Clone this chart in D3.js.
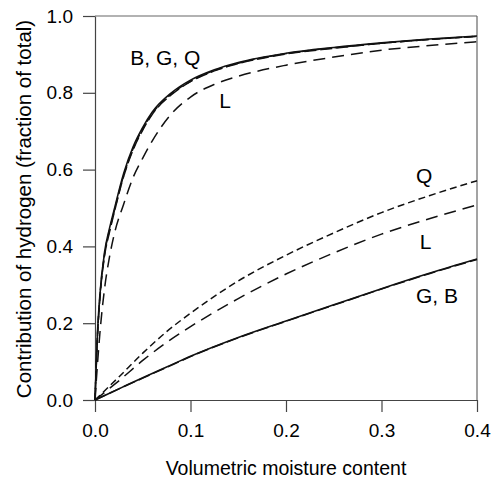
<!DOCTYPE html>
<html>
<head>
<meta charset="utf-8">
<script src="https://cdn.jsdelivr.net/npm/d3@7"></script>
<style>
  body { margin: 0; background: #fff; }
  text { font-family: "Liberation Sans", Arial, sans-serif; fill: #000; }
</style>
</head>
<body>
<div id="chart"></div>
<script>
// moisture values for the steep (high-energy) curves
var thetaHi = [0, 0.0025, 0.005, 0.01, 0.015, 0.02, 0.03, 0.04, 0.05, 0.06, 0.08, 0.1, 0.125, 0.15, 0.2, 0.25, 0.3, 0.35, 0.4];
var hiB = [0, 0.17, 0.27, 0.385, 0.445, 0.495, 0.59, 0.66, 0.71, 0.75, 0.80, 0.833, 0.860, 0.879, 0.903, 0.918, 0.930, 0.940, 0.948];
var hiG = [0, 0.16, 0.26, 0.375, 0.435, 0.487, 0.582, 0.652, 0.703, 0.744, 0.795, 0.829, 0.857, 0.876, 0.901, 0.916, 0.929, 0.939, 0.947];
var hiQ = [0, 0.165, 0.265, 0.38, 0.44, 0.49, 0.585, 0.655, 0.706, 0.746, 0.797, 0.830, 0.858, 0.877, 0.902, 0.917, 0.929, 0.939, 0.947];
var hiL = [0, 0.09, 0.17, 0.29, 0.37, 0.43, 0.51, 0.58, 0.63, 0.675, 0.745, 0.789, 0.822, 0.843, 0.872, 0.893, 0.911, 0.923, 0.933];

// moisture values for the low curves
var thetaLo = [0, 0.025, 0.05, 0.075, 0.1, 0.15, 0.2, 0.25, 0.3, 0.35, 0.4];
var loQ = [0, 0.06, 0.122, 0.178, 0.226, 0.31, 0.377, 0.435, 0.488, 0.532, 0.571];
var loL = [0, 0.05, 0.103, 0.15, 0.191, 0.264, 0.328, 0.383, 0.432, 0.472, 0.508];
var loG = [0, 0.029, 0.057, 0.085, 0.113, 0.162, 0.205, 0.247, 0.289, 0.329, 0.366];
var loB = [0, 0.029, 0.058, 0.086, 0.114, 0.163, 0.206, 0.248, 0.290, 0.330, 0.367];

var xTicks = [0, 0.1, 0.2, 0.3, 0.4];
var yTicks = [0, 0.2, 0.4, 0.6, 0.8, 1.0];

var labels = [
  { text: "B, G, Q", x: 0.037, y: 0.873 },
  { text: "L", x: 0.130, y: 0.76 },
  { text: "Q", x: 0.336, y: 0.565 },
  { text: "L", x: 0.340, y: 0.392 },
  { text: "G, B", x: 0.336, y: 0.252 }
];

var w = 492, h = 483;
var margin = { top: 16, right: 15, bottom: 83, left: 95 };
var iw = w - margin.left - margin.right;
var ih = h - margin.top - margin.bottom;

var svg = d3.select("#chart").append("svg")
    .attr("width", w)
    .attr("height", h);

var g = svg.append("g")
    .attr("transform", "translate(" + margin.left + "," + margin.top + ")");

var x = d3.scaleLinear().domain([0, 0.4]).range([0, iw]);
var y = d3.scaleLinear().domain([0, 1]).range([ih, 0]);

// frame on top and right
g.append("line").attr("x1", 0).attr("x2", iw).attr("y1", 0).attr("y2", 0)
    .attr("stroke", "#666").attr("stroke-width", 1.2);
g.append("line").attr("x1", iw).attr("x2", iw).attr("y1", 0).attr("y2", ih)
    .attr("stroke", "#666").attr("stroke-width", 1.2);

var xAxis = g.append("g")
    .attr("transform", "translate(0," + ih + ")")
    .call(d3.axisBottom(x).tickValues(xTicks).tickFormat(d3.format(".1f")).tickSizeInner(12).tickSizeOuter(0).tickPadding(12));
var yAxis = g.append("g")
    .call(d3.axisLeft(y).tickValues(yTicks).tickFormat(d3.format(".1f")).tickSizeInner(12).tickSizeOuter(0).tickPadding(10));

[xAxis, yAxis].forEach(function (a) {
    a.selectAll("path, line").attr("stroke", "#444").attr("stroke-width", 1.2);
    a.selectAll("text").style("font-size", "19px").attr("fill", "#000")
        .style("font-family", "'Liberation Sans', Arial, sans-serif");
});

var line = d3.line()
    .x(function (d) { return x(d[0]); })
    .y(function (d) { return y(d[1]); })
    .curve(d3.curveMonotoneX);

function zip(xs, ys) {
    return xs.map(function (v, i) { return [v, ys[i]]; });
}

var series = [
    { data: zip(thetaHi, hiL), dash: "12,7", width: 1.5 },
    { data: zip(thetaHi, hiQ), dash: "7,4", width: 1.5 },
    { data: zip(thetaHi, hiG), dash: "12,4", width: 1.5 },
    { data: zip(thetaHi, hiB), dash: null, width: 1.6 },
    { data: zip(thetaLo, loQ), dash: "7,4", width: 1.5 },
    { data: zip(thetaLo, loL), dash: "12,7", width: 1.5 },
    { data: zip(thetaLo, loG), dash: "12,4", width: 1.5 },
    { data: zip(thetaLo, loB), dash: null, width: 1.6 }
];

g.selectAll("path.curve")
    .data(series)
    .enter()
    .append("path")
    .attr("class", "curve")
    .attr("fill", "none")
    .attr("stroke", "#111")
    .attr("stroke-width", function (d) { return d.width; })
    .attr("stroke-dasharray", function (d) { return d.dash; })
    .attr("d", function (d) { return line(d.data); });

g.selectAll("text.lab")
    .data(labels)
    .enter()
    .append("text")
    .attr("class", "lab")
    .attr("x", function (d) { return x(d.x); })
    .attr("y", function (d) { return y(d.y); })
    .style("font-size", "21px")
    .text(function (d) { return d.text; });

svg.append("text")
    .attr("x", margin.left + iw / 2)
    .attr("y", 475)
    .attr("text-anchor", "middle")
    .style("font-size", "19.5px")
    .text("Volumetric moisture content");

svg.append("text")
    .attr("transform", "translate(31," + (margin.top + ih / 2 + 1) + ") rotate(-90)")
    .attr("text-anchor", "middle")
    .style("font-size", "20.5px")
    .text("Contribution of hydrogen (fraction of total)");
</script>
</body>
</html>
